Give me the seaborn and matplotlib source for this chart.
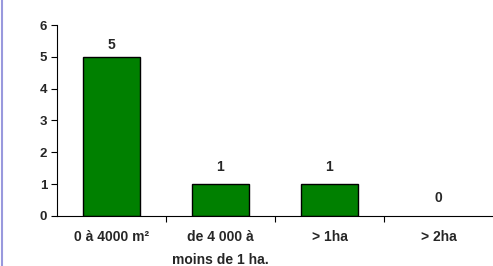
import matplotlib
matplotlib.use('Agg')
import matplotlib.pyplot as plt
import seaborn as sns
import pandas as pd

# chart data
categories = ['0 à 4000 m²', 'de 4 000 à\nmoins de 1 ha.', '> 1ha', '> 2ha']
counts = [5, 1, 1, 0]

df = pd.DataFrame({'surface': categories, 'nombre': counts})

sns.set_style('white')
plt.rcParams['font.family'] = ['Liberation Sans', 'DejaVu Sans']

fig = plt.figure(figsize=(4.93, 2.66), dpi=100)
ax = fig.add_axes([0.1156, 0.188, 0.8844, 0.718])

sns.barplot(data=df, x='surface', y='nombre', color='#008000', saturation=1,
            width=0.53, edgecolor='black', linewidth=1, ax=ax)

# hide outline of empty bars
for p, v in zip(ax.patches, counts):
    if v == 0:
        p.set_linewidth(0)

# value labels above bars (the top one sits closer to its bar)
for i, v in enumerate(counts):
    off = 0.15 if v == max(counts) else 0.33
    ax.text(i, v + off, str(v), ha='center', va='bottom', fontsize=10, fontweight='bold')

ax.set_ylim(0, 6)
ax.set_xlim(-0.5, 3.5)
ax.set_yticks(range(0, 7))
ax.set_xlabel('')
ax.set_ylabel('')

for s in ['top', 'right']:
    ax.spines[s].set_visible(False)
for s in ['left', 'bottom']:
    ax.spines[s].set_color('black')
    ax.spines[s].set_linewidth(0.8)

ax.tick_params(axis='y', length=4, width=0.8, color='black', labelsize=9.5, pad=3, left=True)
ax.tick_params(axis='x', which='major', length=0, labelsize=10, pad=10)
ax.set_xticks([0.5, 1.5, 2.5], minor=True)
ax.tick_params(axis='x', which='minor', length=4, width=0.8, color='black', bottom=True)
for lab in ax.get_xticklabels() + ax.get_yticklabels():
    lab.set_fontweight('bold')
for lab in ax.get_xticklabels():
    lab.set_linespacing(1.85)

# left border line of the frame
fig.add_artist(plt.Line2D([0.005, 0.005], [0, 1], color='#9999dd', linewidth=1.5,
                          transform=fig.transFigure))

fig.savefig('out.png', dpi=100)
